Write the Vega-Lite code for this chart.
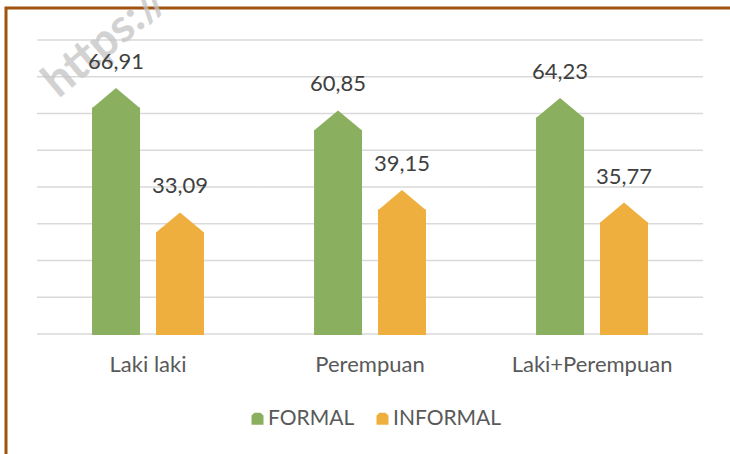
{
  "$schema": "https://vega.github.io/schema/vega-lite/v6.json",
  "width": 726,
  "height": 462,
  "autosize": {"type": "none"},
  "padding": {"left": 6, "top": 8, "right": 0, "bottom": 0},
  "background": "white",
  "config": {
    "font": "Lato",
    "view": {"stroke": "#a0520f", "strokeWidth": 3},
    "locale": {"number": {"decimal": ",", "thousands": ".", "grouping": [3], "currency": ["", ""]}}
  },
  "datasets": {
    "nilai": [
      {"kategori": "Laki laki", "jenis": "FORMAL", "nilai": 66.91},
      {"kategori": "Laki laki", "jenis": "INFORMAL", "nilai": 33.09},
      {"kategori": "Perempuan", "jenis": "FORMAL", "nilai": 60.85},
      {"kategori": "Perempuan", "jenis": "INFORMAL", "nilai": 39.15},
      {"kategori": "Laki+Perempuan", "jenis": "FORMAL", "nilai": 64.23},
      {"kategori": "Laki+Perempuan", "jenis": "INFORMAL", "nilai": 35.77}
    ],
    "grid": [
      {"kategori": "Laki laki", "garis": 0}, {"kategori": "Laki laki", "garis": 10}, {"kategori": "Laki laki", "garis": 20},
      {"kategori": "Laki laki", "garis": 30}, {"kategori": "Laki laki", "garis": 40}, {"kategori": "Laki laki", "garis": 50},
      {"kategori": "Laki laki", "garis": 60}, {"kategori": "Laki laki", "garis": 70}, {"kategori": "Laki laki", "garis": 80},
      {"kategori": "Perempuan", "garis": 0}, {"kategori": "Perempuan", "garis": 10}, {"kategori": "Perempuan", "garis": 20},
      {"kategori": "Perempuan", "garis": 30}, {"kategori": "Perempuan", "garis": 40}, {"kategori": "Perempuan", "garis": 50},
      {"kategori": "Perempuan", "garis": 60}, {"kategori": "Perempuan", "garis": 70}, {"kategori": "Perempuan", "garis": 80},
      {"kategori": "Laki+Perempuan", "garis": 0}, {"kategori": "Laki+Perempuan", "garis": 10}, {"kategori": "Laki+Perempuan", "garis": 20},
      {"kategori": "Laki+Perempuan", "garis": 30}, {"kategori": "Laki+Perempuan", "garis": 40}, {"kategori": "Laki+Perempuan", "garis": 50},
      {"kategori": "Laki+Perempuan", "garis": 60}, {"kategori": "Laki+Perempuan", "garis": 70}, {"kategori": "Laki+Perempuan", "garis": 80}
    ],
    "penutup": [{"kategori": "Laki laki"}, {"kategori": "Perempuan"}, {"kategori": "Laki+Perempuan"}],
    "watermark": [{"kategori": "Laki laki", "teks": "https://", "posisi": 64.5}]
  },
  "resolve": {"scale": {"x": "shared", "y": "shared"}},
  "layer": [
    {
      "data": {"name": "grid"},
      "mark": {"type": "bar", "width": {"band": 1}, "fill": null, "stroke": "#d9d9d9", "strokeWidth": 1.5},
      "encoding": {
        "x": {
          "field": "kategori", "type": "nominal", "sort": null,
          "scale": {"domain": ["Laki laki", "Perempuan", "Laki+Perempuan"], "paddingInner": 0, "paddingOuter": 0.1351, "align": 0.517},
          "axis": {"title": null, "domain": false, "ticks": false, "labelAngle": 0, "offset": -136, "zindex": 1,
                   "labelFontSize": 22, "labelColor": "#595959", "labelPadding": 20, "grid": false}
        },
        "y": {
          "field": "garis", "type": "quantitative",
          "scale": {"domain": [-37.01, 88.71], "nice": false},
          "axis": null
        },
        "y2": {"field": "garis"}
      }
    },
    {
      "data": {"name": "watermark"},
      "mark": {"type": "text", "angle": 320, "align": "left", "baseline": "alphabetic", "fontSize": 46, "fontWeight": "bold", "color": "#c4c4c4", "opacity": 0.75, "dx": -70, "dy": -56},
      "encoding": {
        "x": {"field": "kategori", "type": "nominal", "sort": null},
        "y": {"field": "posisi", "type": "quantitative"},
        "text": {"field": "teks"}
      }
    },
    {
      "data": {"name": "nilai"},
      "mark": {"type": "bar", "width": {"band": 1}, "yOffset": 19.5},
      "encoding": {
        "x": {"field": "kategori", "type": "nominal", "sort": null},
        "xOffset": {"field": "jenis", "type": "nominal", "scale": {"paddingInner": 0.25, "paddingOuter": 0.86}},
        "y": {"field": "nilai", "type": "quantitative"},
        "color": {
          "field": "jenis", "type": "nominal",
          "scale": {"domain": ["FORMAL", "INFORMAL"], "range": ["#8aaf5f", "#efaf3e"]},
          "legend": {
            "title": null, "orient": "none", "direction": "horizontal", "legendX": 241, "legendY": 400,
            "symbolType": "M-1,1L-1,-0.55L-0.5,-1L0.5,-1L1,-0.55L1,1Z", "symbolSize": 144,
            "symbolStrokeWidth": 0, "symbolOpacity": 1,
            "labelFontSize": 21, "labelColor": "#595959", "labelOffset": 0, "columnPadding": 17
          }
        }
      }
    },
    {
      "data": {"name": "penutup"},
      "mark": {"type": "bar", "width": {"band": 1}, "color": "white"},
      "encoding": {
        "x": {"field": "kategori", "type": "nominal", "sort": null},
        "y": {"datum": -0.28},
        "y2": {"datum": -5.6}
      }
    },
    {
      "data": {"name": "nilai"},
      "mark": {"type": "point", "shape": "M0,0L1,0.84L-1,0.84Z", "size": 2304, "filled": true, "opacity": 1, "strokeWidth": 0},
      "encoding": {
        "x": {"field": "kategori", "type": "nominal", "sort": null},
        "xOffset": {"field": "jenis", "type": "nominal"},
        "y": {"field": "nilai", "type": "quantitative"},
        "color": {"field": "jenis", "type": "nominal"}
      }
    },
    {
      "data": {"name": "nilai"},
      "mark": {"type": "text", "dy": -19, "baseline": "alphabetic", "fontSize": 22, "color": "#404040"},
      "encoding": {
        "x": {"field": "kategori", "type": "nominal", "sort": null},
        "xOffset": {"field": "jenis", "type": "nominal"},
        "y": {"field": "nilai", "type": "quantitative"},
        "text": {"field": "nilai", "type": "quantitative", "format": ".2f"}
      }
    }
  ]
}
